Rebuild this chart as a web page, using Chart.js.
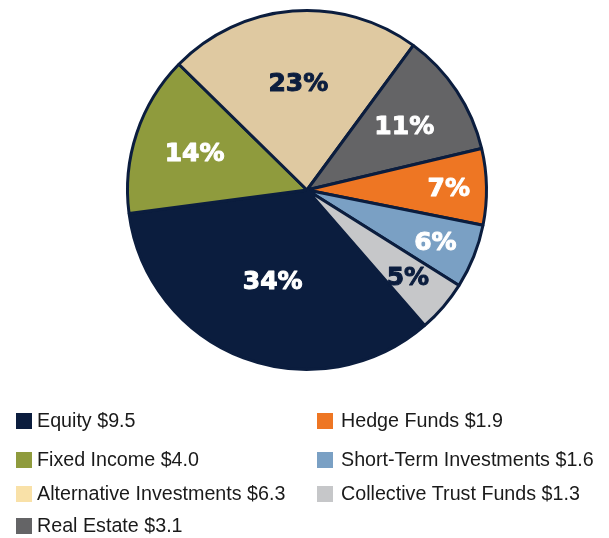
<!DOCTYPE html>
<html>
<head>
<meta charset="utf-8">
<script src="https://cdn.jsdelivr.net/npm/chart.js@4/dist/chart.umd.min.js"></script>
<style>
  html, body { margin: 0; padding: 0; background: #fff; }
  #wrap { width: 609px; height: 538px; position: relative; }
</style>
</head>
<body>
<div id="wrap"><canvas id="canvas"></canvas></div>
<script>
const categories = ['Equity', 'Fixed Income', 'Alternative Investments', 'Real Estate', 'Hedge Funds', 'Short-Term Investments', 'Collective Trust Funds']
const amounts = [9.5, 4.0, 6.3, 3.1, 1.9, 1.6, 1.3]
const percentLabels = ['34%', '14%', '23%', '11%', '7%', '6%', '5%']

// styling
const sliceColors = ['#0b1d3e', '#8f9b3d', '#dfc9a1', '#646466', '#ee7623', '#7aa0c4', '#c6c7c9']
const legendColors = ['#0b1d3e', '#8f9b3d', '#f9e1a8', '#646466', '#ee7623', '#7aa0c4', '#c6c7c9']
const labelColors = ['#fff', '#fff', '#0b1d3e', '#fff', '#fff', '#fff', '#0b1d3e']
const labelRadius = [0.54, 0.66, 0.6, 0.65, 0.79, 0.77, 0.74]
// legend slot for each category: [column, row]
const legendSlots = [[0, 0], [0, 1], [0, 2], [0, 3], [1, 0], [1, 1], [1, 2]]

const sliceLabels = {
  id: 'sliceLabels',
  afterDatasetsDraw(chart) {
    const ctx = chart.ctx
    const arcs = chart.getDatasetMeta(0).data
    ctx.save()
    ctx.font = 'bold 25px "DejaVu Sans", sans-serif'
    ctx.textAlign = 'center'
    ctx.textBaseline = 'middle'
    ctx.lineJoin = 'round'
    arcs.forEach((arc, i) => {
      const p = arc.getProps(['x', 'y', 'startAngle', 'endAngle', 'outerRadius'], true)
      const mid = (p.startAngle + p.endAngle) / 2
      const r = p.outerRadius * labelRadius[i]
      const x = p.x + Math.cos(mid) * r
      const y = p.y + Math.sin(mid) * r
      ctx.fillStyle = labelColors[i]
      ctx.strokeStyle = labelColors[i]
      ctx.lineWidth = 1
      ctx.strokeText(percentLabels[i], x, y + 2)
      ctx.fillText(percentLabels[i], x, y + 2)
    })
    ctx.restore()
  }
}

const gridLegend = {
  id: 'gridLegend',
  afterDraw(chart) {
    const ctx = chart.ctx
    const boxX = [16, 317]
    const textX = [37, 341]
    const rowY = [421, 460, 494, 526]
    ctx.save()
    ctx.font = '19.7px "Liberation Sans", Arial, sans-serif'
    ctx.textBaseline = 'middle'
    ctx.textAlign = 'left'
    categories.forEach((name, i) => {
      const [c, r] = legendSlots[i]
      const y = rowY[r]
      ctx.fillStyle = legendColors[i]
      ctx.fillRect(boxX[c], y - 8, 16, 16)
      ctx.fillStyle = '#1a1a1a'
      ctx.fillText(name + ' $' + amounts[i].toFixed(1), textX[c], y + 1)
    })
    ctx.restore()
  }
}

const data = {
  labels: categories,
  datasets: [
    {
      data: amounts,
      backgroundColor: sliceColors,
      borderColor: '#0b1d3e',
      borderWidth: 3,
    },
  ],
}

const config = {
  type: 'pie',
  data: data,
  options: {
    responsive: true,
    maintainAspectRatio: false,
    animation: false,
    rotation: 139,
    layout: { padding: { top: 9, bottom: 167, left: 5, right: 0 } },
    plugins: {
      legend: { display: false },
      tooltip: { enabled: false },
    },
  },
  plugins: [sliceLabels, gridLegend],
}

const canvas = document.getElementById('canvas')
const chart = new Chart(canvas, config)
</script>
</body>
</html>
